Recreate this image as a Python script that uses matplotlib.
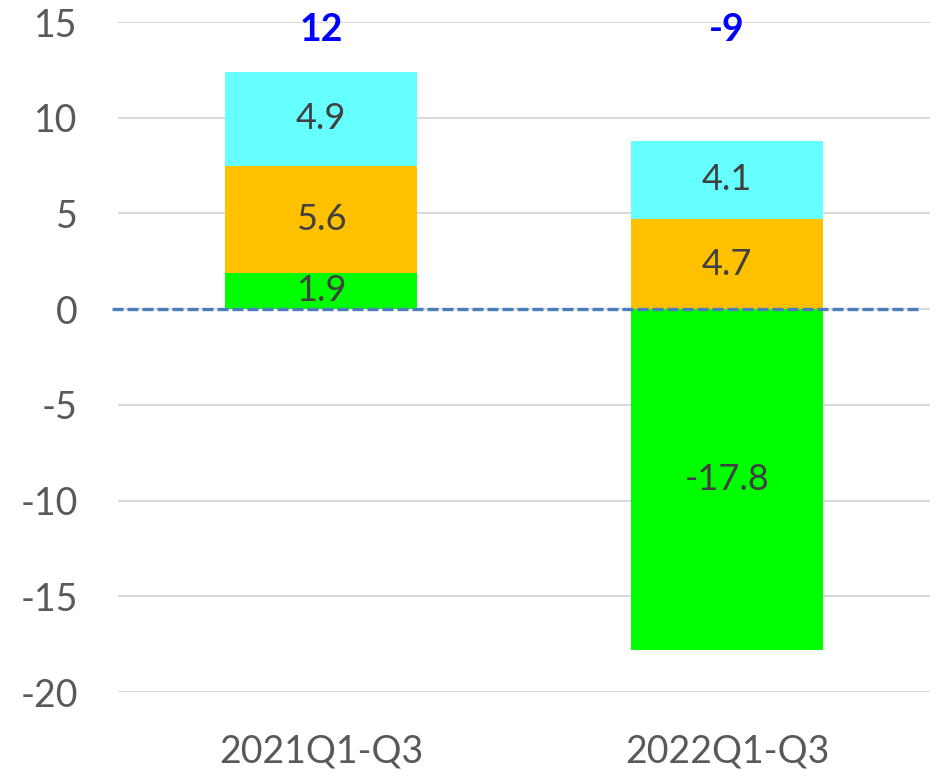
import matplotlib.pyplot as plt
import numpy as np

plt.rcParams['font.family'] = ['Lato', 'DejaVu Sans']
plt.rcParams['axes.unicode_minus'] = False

# data
categories = ["2021Q1-Q3", "2022Q1-Q3"]
green_vals = [1.9, -17.8]
orange_vals = [5.6, 4.7]
cyan_vals = [4.9, 4.1]
totals = ["12", "-9"]

x = np.arange(len(categories))
green = np.array(green_vals)
orange = np.array(orange_vals)
cyan = np.array(cyan_vals)

fig = plt.figure(figsize=(9.46, 7.76), dpi=100)
ax = fig.add_axes([0.1247, 0.1082, 0.8584, 0.8634])

w = 0.475
# positive parts stack from zero, negative green goes below
pos_green = np.where(green > 0, green, 0)
ax.bar(x, green, w, color="#00FF00", zorder=2)
ax.bar(x, orange, w, bottom=pos_green, color="#FFC000", zorder=2)
ax.bar(x, cyan, w, bottom=pos_green + orange, color="#66FFFF", zorder=2)

lab = dict(ha="center", va="center", fontsize=26, color="#404040", zorder=3)
for i in x:
    ax.text(i, green[i] / 2, f"{green[i]:.1f}", **lab)
    ax.text(i, pos_green[i] + orange[i] / 2, f"{orange[i]:.1f}", **lab)
    ax.text(i, pos_green[i] + orange[i] + cyan[i] / 2, f"{cyan[i]:.1f}", **lab)
    ax.text(i, 14.6, totals[i], ha="center", va="center", fontsize=27,
            fontweight="bold", color="#0000FF")

ax.axhline(0, xmin=-0.007, xmax=0.99, color="#4A7EBB", linestyle=(0, (3.3, 1.2)),
           linewidth=2.4, zorder=4, clip_on=False)

ax.set_xlim(-0.5, 1.5)
ax.set_ylim(-20, 15)
ax.set_yticks(range(-20, 16, 5))
ax.set_xticks(x)
ax.set_xticklabels(categories)
ax.grid(axis="y", color="#D9D9D9", linewidth=1.5, zorder=0)
ax.set_axisbelow(True)
for s in ax.spines.values():
    s.set_visible(False)
ax.tick_params(length=0, labelsize=27, colors="#595959")
ax.tick_params(axis="y", pad=29)
ax.tick_params(axis="x", pad=30)

fig.savefig("out.png", dpi=100)
